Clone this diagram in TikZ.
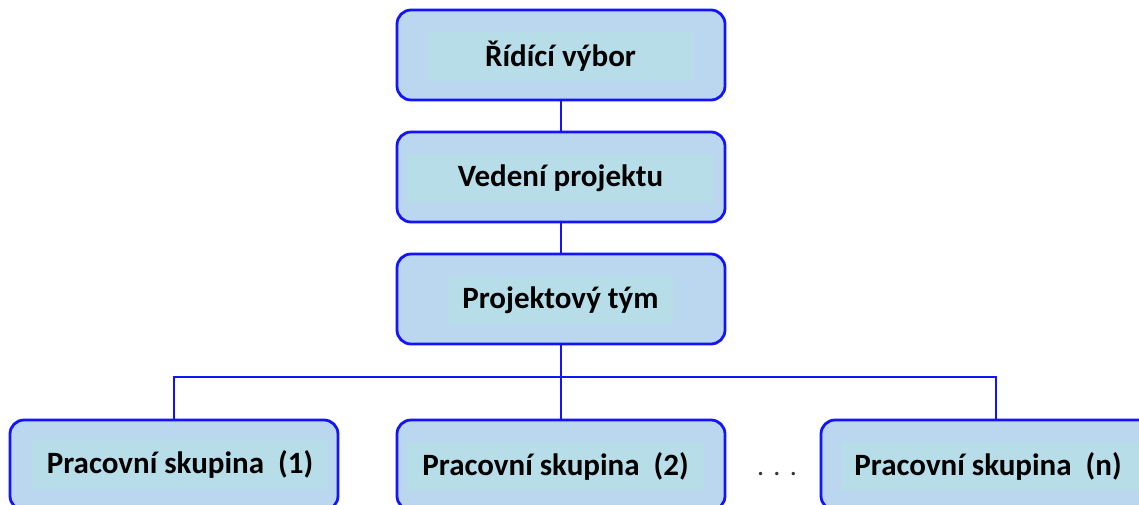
\documentclass[tikz,border=0pt]{standalone}
\usepackage{fontspec}
\setmainfont{Carlito}
\definecolor{orgblue}{RGB}{20,20,250}
\definecolor{orgfill}{RGB}{187,215,240}
\definecolor{labelfill}{RGB}{183,221,232}

\begin{document}
\begin{tikzpicture}[x=1pt,y=-1pt]
    \useasboundingbox (0,0) rectangle (1139,504);
    \clip (0,0) rectangle (1139,504);
    \begin{scope}[every node/.style={draw=orgblue,line width=2.8pt,fill=orgfill,rounded corners=14pt,minimum width=328pt,minimum height=90pt}]
        \node (rv) at (561,55) {};
        \node (vp) at (561,177) {};
        \node (pt) at (561,299) {};
        \node (ps1) at (174,465) {};
        \node (ps2) at (561,465) {};
        \node[minimum width=350pt] (psn) at (996,465) {};
    \end{scope}
    \begin{scope}[every node/.style={fill=labelfill,inner sep=0pt,minimum height=49pt,font=\bfseries\fontsize{31}{36}\selectfont}]
        \node[minimum width=265pt] (rvl) at (560.5,56.5) {Řídící výbor};
        \node[minimum width=307pt] (vpl) at (560.5,178) {Vedení projektu};
        \node[minimum width=225pt] (ptl) at (560.5,300.5) {Projektový tým};
        \node[minimum width=296pt] (ps1l) at (180,464.5) {Pracovní skupina\ \ (1)};
        \node[minimum width=297pt] (ps2l) at (555.5,466.5) {Pracovní skupina\ \ (2)};
        \node[minimum width=300pt,anchor=west] (psnl) at (842,466.5) {};
        \node[fill=none] (psnt) at (988,466.5) {Pracovní skupina\ \ (n)};
    \end{scope}
    \node[text=black!80,anchor=base,font=\fontsize{28}{32}\selectfont] (dots) at (777,475) {.\,\,.\,\,.};
    \coordinate (bus) at (561,377);
    \begin{scope}[every edge/.style={draw=orgblue,line width=2.8pt}]
        \draw (rv) edge (vp);
        \draw (vp) edge (pt);
        \draw (pt) edge (bus);
        \draw (bus) edge (ps2);
    \end{scope}
    \draw[orgblue,line width=2.8pt] (ps1.north) |- (bus) -| (psn.north);
\end{tikzpicture}
\end{document}
